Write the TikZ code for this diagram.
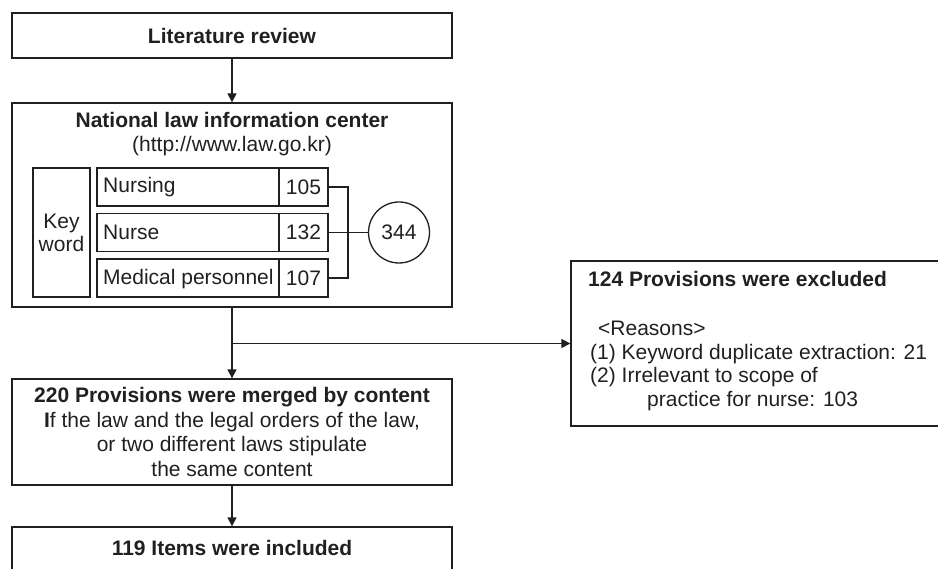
\documentclass[tikz,border=0pt]{standalone}
\usepackage{fontspec}
\setmainfont{Liberation Sans}
\usetikzlibrary{arrows.meta}
\definecolor{ink}{HTML}{231F20}
\begin{document}
\begin{tikzpicture}[x=1pt,y=-1pt,
  box/.style={draw=ink, line width=1.3pt, inner sep=0pt, text=ink,
    font=\fontsize{21}{24.4}\selectfont},
  txt/.style={inner sep=0pt, text=ink, font=\fontsize{21}{24.4}\selectfont},
  txtb/.style={txt, font=\fontsize{21}{24.4}\selectfont\bfseries},
  wire/.style={draw=ink, line width=1.3pt},
  flow/.style={wire, -{Triangle[length=9pt,width=9pt]}}]
\useasboundingbox (0,0) rectangle (938,569);
\clip (0,0) rectangle (938,569);

% first step
\node[box, minimum width=440pt, minimum height=45pt, font=\fontsize{21}{24.4}\selectfont\bfseries]
  (lit) at (232,35.5) {Literature review};

% search in the law database
\node[box, minimum width=440pt, minimum height=204pt] (nlic) at (232,205) {};
\node[txtb, anchor=base] (nlictitle) at (232,128) {National law information center};
\node[txt, anchor=base] (url) at (232,152) {(http://www.law.go.kr)};

\node[box, minimum width=57pt, minimum height=129pt, align=center,
  font=\fontsize{21}{23}\selectfont] (kw) at (61.5,232.5) {Key\\word};

% keyword rows
\node[box, minimum width=182pt, minimum height=38pt] (c1) at (188,187) {};
\node[box, minimum width=49pt, minimum height=38pt] (n1) at (303.5,187) {105};
\node[txt, anchor=base west] (l1) at (103,193) {Nursing};

\node[box, minimum width=182pt, minimum height=38pt] (c2) at (188,232.5) {};
\node[box, minimum width=49pt, minimum height=38pt] (n2) at (303.5,232.5) {132};
\node[txt, anchor=base west] (l2) at (103,239.5) {Nurse};

\node[box, minimum width=182pt, minimum height=38pt] (c3) at (188,278) {};
\node[box, minimum width=49pt, minimum height=38pt] (n3) at (303.5,278) {107};
\node[txt, anchor=base west] (l3) at (103,285) {Medical personnel};

% total
\node[box, circle, minimum size=61pt] (sum) at (399,232.5) {344};
\coordinate (j) at (348,232.5);
\draw[wire] (n1.east) -| (j) |- (n3.east);
\draw[wire] (n2.east) -- (sum.west);

% merging step
\node[box, minimum width=440pt, minimum height=106pt, align=center] (merge) at (232,432)
  {\textbf{220 Provisions were merged by content}\\
   \textbf{I}f the law and the legal orders of the law,\\
   or two different laws stipulate\\
   the same content};

% exclusions
\node[box, minimum width=389pt, minimum height=165pt] (excl) at (765.5,343.5) {};
\node[txtb, anchor=base west] (excltitle) at (588,287) {124 Provisions were excluded};
\node[txt, anchor=base west] (r0) at (598,336) {<Reasons>};
\node[txt, anchor=base west] (r1) at (590,359.5) {(1) Keyword duplicate extraction: 21};
\node[txt, anchor=base west] (r2) at (590,383) {(2) Irrelevant to scope of};
\node[txt, anchor=base west] (r3) at (647,407) {practice for nurse: 103};

% result
\node[box, minimum width=440pt, minimum height=80pt] (incl) at (232,567) {};
\node[txtb, anchor=base] (incltext) at (232,555) {119 Items were included};

% flow arrows
\draw[flow] (lit.south) -- (nlic.north);
\draw[flow] (nlic.south) -- (merge.north);
\coordinate (split) at (nlic.south |- excl.west);
\draw[flow] (split) -- (excl.west);
\draw[flow] (merge.south) -- (incl.north);
\end{tikzpicture}
\end{document}
